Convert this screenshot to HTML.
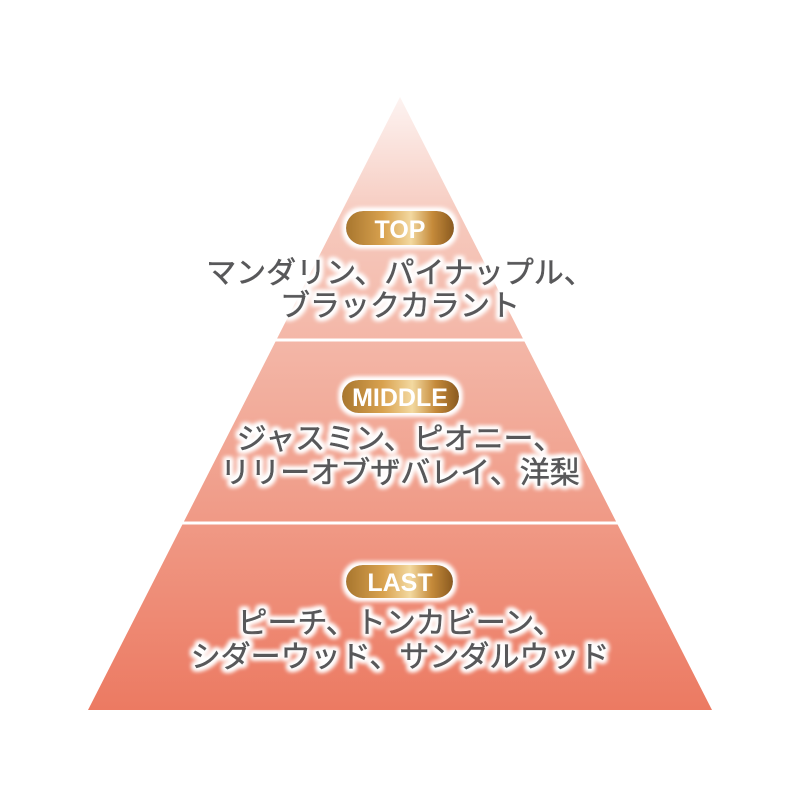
<!DOCTYPE html>
<html><head><meta charset="utf-8"><style>
html,body{margin:0;padding:0;background:#fff;}
svg{display:block;}
text{font-family:"Liberation Sans","Noto Sans CJK JP",sans-serif;}
</style></head><body>
<svg width="800" height="800" viewBox="0 0 800 800" xmlns="http://www.w3.org/2000/svg">
<defs>
<linearGradient id="pg" x1="0" y1="97" x2="0" y2="710" gradientUnits="userSpaceOnUse">
<stop offset="0" stop-color="#fdf3f1"/>
<stop offset="0.2" stop-color="#f6c9bd"/>
<stop offset="0.5" stop-color="#f2ad9c"/>
<stop offset="1" stop-color="#ec7a62"/>
</linearGradient>
<linearGradient id="gold" x1="0" y1="0" x2="1" y2="0">
<stop offset="0" stop-color="#a8762e"/>
<stop offset="0.35" stop-color="#d9a24f"/>
<stop offset="0.6" stop-color="#f3d9a0"/>
<stop offset="0.8" stop-color="#c58a3a"/>
<stop offset="1" stop-color="#8a5a20"/>
</linearGradient>
<filter id="glow" x="-10%" y="-30%" width="120%" height="160%">
<feMorphology in="SourceAlpha" operator="dilate" radius="2.5" result="d"/>
<feGaussianBlur in="d" stdDeviation="2.5" result="b"/>
<feFlood flood-color="#fff"/>
<feComposite in2="b" operator="in" result="w"/>
<feMerge><feMergeNode in="w"/><feMergeNode in="w"/><feMergeNode in="SourceGraphic"/></feMerge>
</filter>
</defs>
<polygon points="400,97 712,710 88,710" fill="url(#pg)"/>
<line x1="240" y1="340" x2="560" y2="340" stroke="#fff" stroke-width="3"/>
<line x1="150" y1="523" x2="650" y2="523" stroke="#fff" stroke-width="3"/>

<g filter="url(#glow)">
<rect x="346" y="211" width="108" height="34" rx="17" fill="url(#gold)"/>
<rect x="342" y="380" width="117" height="33" rx="16.5" fill="url(#gold)"/>
<rect x="346" y="565" width="107" height="33" rx="16.5" fill="url(#gold)"/>
</g>
<g font-weight="bold" font-size="25" fill="#fff" text-anchor="middle">
<text x="400" y="238">TOP</text>
<text x="400" y="406">MIDDLE</text>
<text x="400" y="591">LAST</text>
</g>

<g filter="url(#glow)" font-size="30" fill="#58585a" stroke="#58585a" stroke-width="0.6" text-anchor="middle">
<text x="400" y="283">マンダリン、パイナップル、</text>
<text x="400" y="316">ブラックカラント</text>
<text x="400" y="449">ジャスミン、ピオニー、</text>
<text x="400" y="483">リリーオブザバレイ、洋梨</text>
<text x="400" y="633">ピーチ、トンカビーン、</text>
<text x="400" y="667">シダーウッド、サンダルウッド</text>
</g>
</svg>
</body></html>
